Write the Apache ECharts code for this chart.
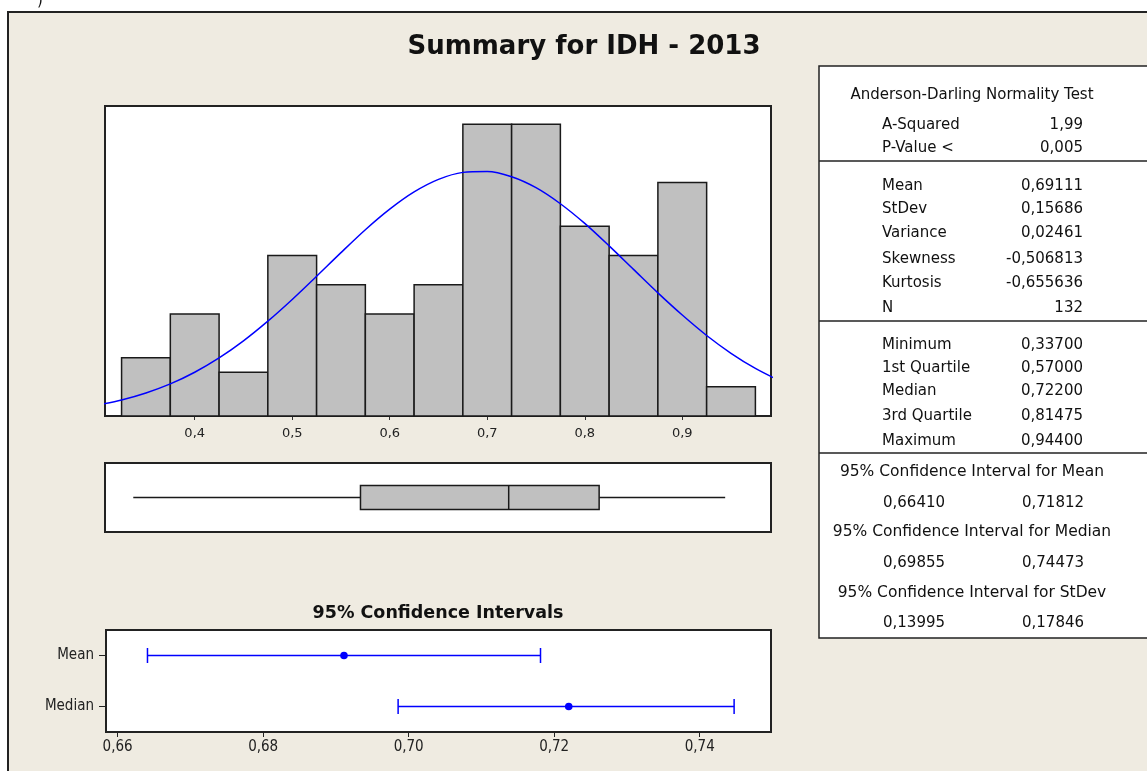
<!DOCTYPE html>
<html>
<head>
<meta charset="utf-8">
<title>Summary for IDH - 2013</title>
<script src="https://cdn.jsdelivr.net/npm/echarts@6/dist/echarts.min.js"></script>
<style>
  html, body { margin: 0; padding: 0; background: #fff; }
  #chart { width: 1147px; height: 771px; }
</style>
</head>
<body>
<div id="chart"></div>
<script>
// histogram (bin centers, width 0.05)
const binCenters = [0.35, 0.40, 0.45, 0.50, 0.55, 0.60, 0.65, 0.70, 0.75, 0.80, 0.85, 0.90, 0.95];
const binCounts = [4, 7, 3, 11, 9, 7, 9, 20, 20, 13, 11, 16, 2];
const binWidth = 0.05;

// fitted normal curve
const curveX = [0.300, 0.325, 0.350, 0.375, 0.400, 0.425, 0.450, 0.475, 0.500, 0.525, 0.550, 0.575,
  0.600, 0.625, 0.650, 0.675, 0.700, 0.725, 0.750, 0.775, 0.800, 0.825, 0.850, 0.875, 0.900,
  0.925, 0.950, 0.975, 1.000];
const curveY = [0.75, 1.1, 1.58, 2.2, 3.0, 3.98, 5.15, 6.5, 7.99, 9.58, 11.2, 12.77,
  14.18, 15.36, 16.22, 16.7, 16.76, 16.4, 15.65, 14.55, 13.2, 11.66, 10.05, 8.44, 6.92,
  5.52, 4.3, 3.26, 2.41];

const histTicks = [0.4, 0.5, 0.6, 0.7, 0.8, 0.9];

// boxplot: min, Q1, median, Q3, max
const boxStats = [0.337, 0.57, 0.722, 0.81475, 0.944];

// 95% confidence intervals
const ciNames = ['Mean', 'Median'];
const ciEst = [0.69111, 0.722];
const ciLow = [0.66410, 0.69855];
const ciHigh = [0.71812, 0.74473];
const ciTicks = [0.66, 0.68, 0.70, 0.72, 0.74];

// summary table
const adRows = [['A-Squared', '1,99'], ['P-Value <', '0,005']];
const momentRows = [['Mean', '0,69111'], ['StDev', '0,15686'], ['Variance', '0,02461'],
  ['Skewness', '-0,506813'], ['Kurtosis', '-0,655636'], ['N', '132']];
const quantRows = [['Minimum', '0,33700'], ['1st Quartile', '0,57000'], ['Median', '0,72200'],
  ['3rd Quartile', '0,81475'], ['Maximum', '0,94400']];
const ciRows = [['95% Confidence Interval for Mean', '0,66410', '0,71812'],
  ['95% Confidence Interval for Median', '0,69855', '0,74473'],
  ['95% Confidence Interval for StDev', '0,13995', '0,17846']];

const FONT = '"DejaVu Sans", sans-serif';
const NARROW = '"DejaVu Sans Condensed", "DejaVu Sans", sans-serif';
const comma = (v, d) => v.toFixed(d).replace('.', ',');

function txt(text, x, y, align, extra) {
  return {
    type: 'text', z: 10,
    style: Object.assign({ text: text, x: x, y: y, textAlign: align, textVerticalAlign: 'middle',
      fill: '#111', fontSize: 15, fontFamily: FONT }, extra || {})
  };
}
function hline(y) {
  return { type: 'line', z: 10, shape: { x1: 819, y1: y, x2: 1160, y2: y },
    style: { stroke: '#222', lineWidth: 1.5 } };
}

const table = [
  { type: 'rect', z: 9, shape: { x: 819, y: 66, width: 340, height: 572 },
    style: { fill: '#fff', stroke: '#222', lineWidth: 1.5 } },
  txt('Anderson-Darling Normality Test', 972, 95, 'center'),
  hline(161), hline(321), hline(453)
];
const rowY1 = [125, 148];
adRows.forEach((r, i) => { table.push(txt(r[0], 882, rowY1[i], 'left'), txt(r[1], 1083, rowY1[i], 'right')); });
const rowY2 = [186, 209, 233, 259, 283, 308];
momentRows.forEach((r, i) => { table.push(txt(r[0], 882, rowY2[i], 'left'), txt(r[1], 1083, rowY2[i], 'right')); });
const rowY3 = [345, 368, 391, 416, 441];
quantRows.forEach((r, i) => { table.push(txt(r[0], 882, rowY3[i], 'left'), txt(r[1], 1083, rowY3[i], 'right')); });
const ciHeadY = [472, 532, 593];
const ciValY = [503, 563, 623];
ciRows.forEach((r, i) => {
  table.push(txt(r[0], 972, ciHeadY[i], 'center', { fontSize: 15.5 }),
    txt(r[1], 883, ciValY[i], 'left'), txt(r[2], 1022, ciValY[i], 'left'));
});

const chart = echarts.init(document.getElementById('chart'));

const option = {
  backgroundColor: '#fff',
  animation: false,
  graphic: [
    { type: 'rect', z: -10, shape: { x: 8, y: 12, width: 1160, height: 780 },
      style: { fill: '#EFEBE1', stroke: '#222', lineWidth: 2 } },
    txt(')', 40, 1, 'center'),
    txt('Summary for IDH - 2013', 584, 47, 'center', { fontSize: 26, fontWeight: 'bold' }),
    txt('95% Confidence Intervals', 438, 613, 'center', { fontSize: 17.5, fontWeight: 'bold' })
  ].concat(table),
  grid: [
    { left: 105, top: 106, width: 666, height: 310, show: true, backgroundColor: '#fff', borderColor: '#222', borderWidth: 2 },
    { left: 105, top: 463, width: 666, height: 69, show: true, backgroundColor: '#fff', borderColor: '#222', borderWidth: 2 },
    { left: 106, top: 630, width: 665, height: 102, show: true, backgroundColor: '#fff', borderColor: '#222', borderWidth: 2 }
  ],
  xAxis: [
    { type: 'value', gridIndex: 0, min: 0.308, max: 0.991, splitLine: { show: false },
      axisLine: { show: true, lineStyle: { color: '#222', width: 2 } },
      axisTick: { show: true, length: 4, customValues: histTicks, lineStyle: { color: '#333' } },
      axisLabel: { customValues: histTicks, margin: 11, color: '#222', fontSize: 13, fontFamily: FONT,
        formatter: v => comma(v, 1) } },
    { type: 'value', gridIndex: 1, min: 0.308, max: 0.991, show: false },
    { type: 'value', gridIndex: 2, min: 0.6584, max: 0.7498, splitLine: { show: false },
      axisLine: { show: true, lineStyle: { color: '#222', width: 2 } },
      axisTick: { show: true, length: 5, customValues: ciTicks, lineStyle: { color: '#222' } },
      axisLabel: { customValues: ciTicks, margin: 8, color: '#222', fontSize: 15, fontFamily: NARROW,
        formatter: v => comma(v, 2) } }
  ],
  yAxis: [
    { type: 'value', gridIndex: 0, min: 0, max: 21.25, show: false },
    { type: 'value', gridIndex: 1, min: -1, max: 1, show: false },
    { type: 'category', gridIndex: 2, data: ciNames, inverse: true,
      axisLine: { show: true, lineStyle: { color: '#222', width: 2 } },
      axisTick: { show: true, alignWithLabel: true, length: 7, lineStyle: { color: '#222' } },
      axisLabel: { margin: 12, color: '#222', fontSize: 15, fontFamily: NARROW } }
  ],
  series: [
    {
      type: 'custom', xAxisIndex: 0, yAxisIndex: 0,
      data: binCenters.map((c, i) => [c - binWidth / 2, c + binWidth / 2, binCounts[i]]),
      encode: { x: [0, 1], y: 2 },
      renderItem: function (params, api) {
        const p0 = api.coord([api.value(0), 0]);
        const p1 = api.coord([api.value(1), api.value(2)]);
        return { type: 'rect',
          shape: { x: p0[0], y: p1[1], width: p1[0] - p0[0], height: p0[1] - p1[1] },
          style: { fill: '#C0C0C0', stroke: '#1a1a1a', lineWidth: 1.5 } };
      }
    },
    {
      type: 'line', xAxisIndex: 0, yAxisIndex: 0, smooth: 0.3, showSymbol: false, clip: true,
      data: curveX.map((x, i) => [x, curveY[i]]),
      lineStyle: { color: '#0000FF', width: 1.5 }, z: 5
    },
    {
      type: 'custom', xAxisIndex: 1, yAxisIndex: 1,
      data: [boxStats.concat([0])],
      encode: { x: [0, 1, 2, 3, 4], y: 5 },
      renderItem: function (params, api) {
        const y = api.coord([0, 0])[1];
        const x = [0, 1, 2, 3, 4].map(k => api.coord([api.value(k), 0])[0]);
        const h = 12;
        const ln = (x1, y1, x2, y2) => ({ type: 'line', shape: { x1: x1, y1: y1, x2: x2, y2: y2 },
          style: { stroke: '#1a1a1a', lineWidth: 1.5 } });
        return { type: 'group', children: [
          ln(x[0], y, x[1], y),
          ln(x[3], y, x[4], y),
          { type: 'rect', shape: { x: x[1], y: y - h, width: x[3] - x[1], height: 2 * h },
            style: { fill: '#C0C0C0', stroke: '#1a1a1a', lineWidth: 1.5 } },
          ln(x[2], y - h, x[2], y + h)
        ] };
      }
    },
    {
      type: 'custom', xAxisIndex: 2, yAxisIndex: 2,
      data: ciNames.map((n, i) => [ciLow[i], ciHigh[i], ciEst[i], i]),
      encode: { x: [0, 1, 2], y: 3 },
      renderItem: function (params, api) {
        const a = api.coord([api.value(0), api.value(3)]);
        const b = api.coord([api.value(1), api.value(3)]);
        const m = api.coord([api.value(2), api.value(3)]);
        const c = 7.5;
        const st = { stroke: '#0000FF', lineWidth: 1.5 };
        return { type: 'group', children: [
          { type: 'line', shape: { x1: a[0], y1: a[1], x2: b[0], y2: b[1] }, style: st },
          { type: 'line', shape: { x1: a[0], y1: a[1] - c, x2: a[0], y2: a[1] + c }, style: st },
          { type: 'line', shape: { x1: b[0], y1: b[1] - c, x2: b[0], y2: b[1] + c }, style: st },
          { type: 'circle', shape: { cx: m[0], cy: m[1], r: 3.8 }, style: { fill: '#0000FF' } }
        ] };
      }
    }
  ]
};

chart.setOption(option);
</script>
</body>
</html>
